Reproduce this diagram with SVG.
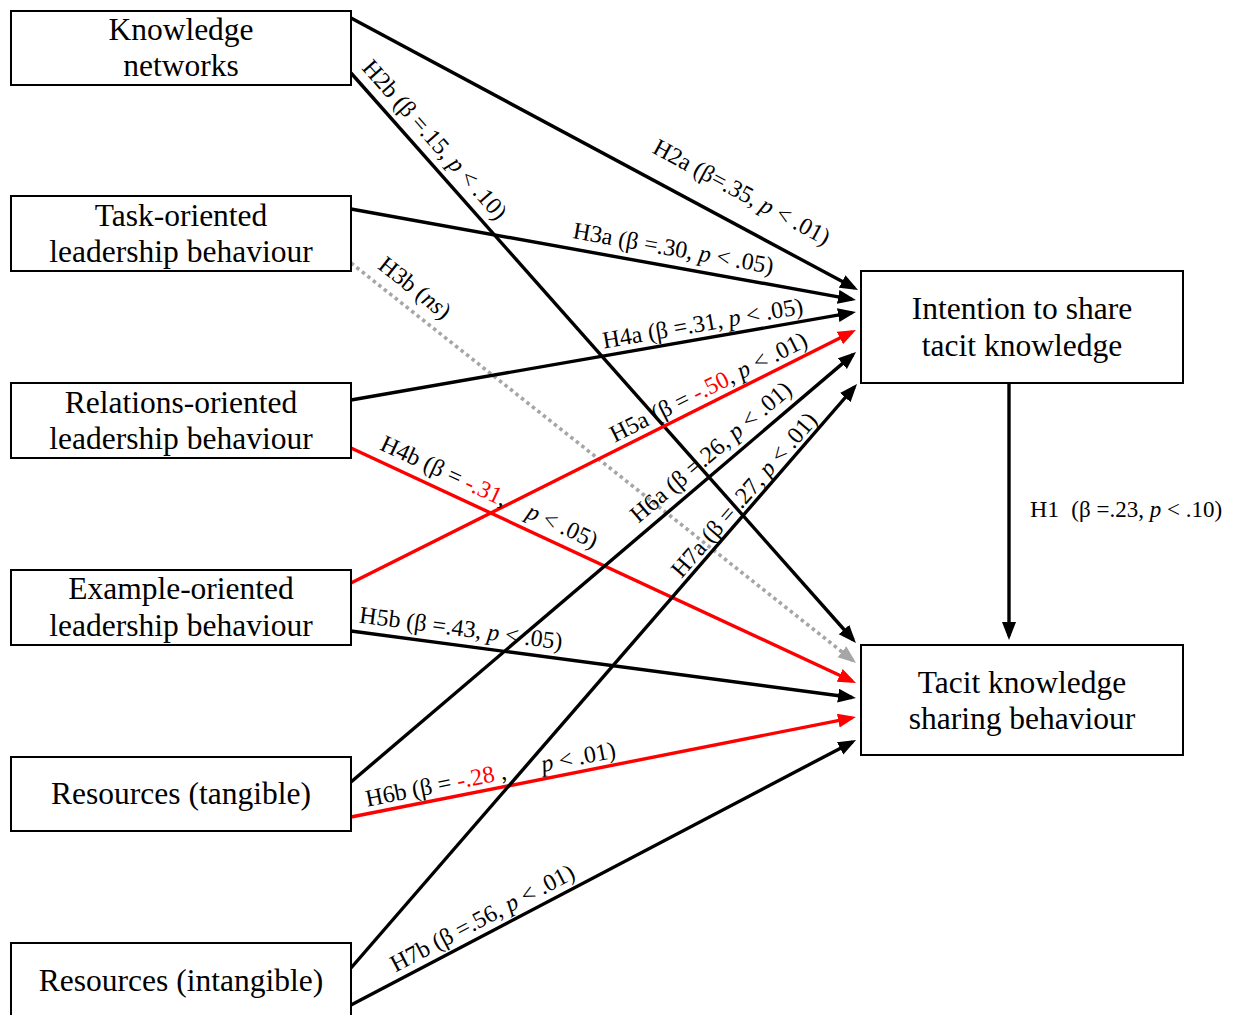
<svg xmlns="http://www.w3.org/2000/svg" width="1240" height="1015" viewBox="0 0 1240 1015">
  <style>
    .box { fill: #ffffff; stroke: #000000; stroke-width: 2; }
    .nt { font-family: "Liberation Serif", "Times New Roman", serif; font-size: 31.5px; fill: #000000; text-anchor: middle; }
    .lb { font-family: "Liberation Serif", "Times New Roman", serif; font-size: 24px; fill: #000000; text-anchor: middle; }
    .k { stroke: #000000; stroke-width: 3.4; fill: none; }
    .r { stroke: #ff0000; stroke-width: 3.4; fill: none; }
    .g { stroke: #a6a6a6; stroke-width: 3.6; fill: none; stroke-dasharray: 3.5 3.5; }
    .red { fill: #ff0000; }
    .it { font-style: italic; }
  </style>
  <defs>
    <marker id="ak" markerUnits="userSpaceOnUse" markerWidth="19" markerHeight="15" refX="14" refY="7" orient="auto">
      <path d="M0,0 L18,7 L0,14 Z" fill="#000000"/>
    </marker>
    <marker id="ar" markerUnits="userSpaceOnUse" markerWidth="19" markerHeight="15" refX="14" refY="7" orient="auto">
      <path d="M0,0 L18,7 L0,14 Z" fill="#ff0000"/>
    </marker>
    <marker id="ag" markerUnits="userSpaceOnUse" markerWidth="19" markerHeight="15" refX="14" refY="7" orient="auto">
      <path d="M0,0 L18,7 L0,14 Z" fill="#a6a6a6"/>
    </marker>
  </defs>
  <rect width="1240" height="1015" fill="#ffffff"/>

  <!-- paths between constructs -->
  <g id="connectors">
    <line class="k" x1="351" y1="18" x2="854.5" y2="288.1" marker-end="url(#ak)"/>
    <line class="k" x1="351" y1="73" x2="853.3" y2="640" marker-end="url(#ak)"/>
    <line class="k" x1="351" y1="209" x2="852" y2="299.3" marker-end="url(#ak)"/>
    <line class="g" x1="351" y1="263" x2="852.9" y2="660.5" marker-end="url(#ag)"/>
    <line class="k" x1="351" y1="400" x2="852" y2="312.7" marker-end="url(#ak)"/>
    <line class="r" x1="351" y1="448" x2="852.4" y2="681.3" marker-end="url(#ar)"/>
    <line class="r" x1="351" y1="583" x2="852.4" y2="331.8" marker-end="url(#ar)"/>
    <line class="k" x1="351" y1="631" x2="852" y2="697.5" marker-end="url(#ak)"/>
    <line class="k" x1="351" y1="782" x2="853" y2="354.6" marker-end="url(#ak)"/>
    <line class="r" x1="351" y1="817" x2="852" y2="717.8" marker-end="url(#ar)"/>
    <line class="k" x1="351" y1="968" x2="854.4" y2="387" marker-end="url(#ak)"/>
    <line class="k" x1="351" y1="1005" x2="852.5" y2="741.9" marker-end="url(#ak)"/>
    <line class="k" x1="1009" y1="384" x2="1009" y2="636" marker-end="url(#ak)"/>

    <!-- path labels -->
    <text class="lb" transform="translate(738,199) rotate(28.3)">H2a (β=.35, <tspan class="it">p</tspan> &lt; .01)</text>
    <text class="lb" transform="translate(429,145) rotate(48.4)">H2b (β =.15, <tspan class="it">p</tspan> &lt; .10)</text>
    <text class="lb" transform="translate(672,256) rotate(10.2)">H3a (β =.30, <tspan class="it">p</tspan> &lt; .05)</text>
    <text class="lb" transform="translate(410,294) rotate(38.4)">H3b (<tspan class="it">ns</tspan>)</text>
    <text class="lb" transform="translate(704,331) rotate(-9.9)">H4a (β =.31, <tspan class="it">p</tspan> &lt; .05)</text>
    <text class="lb" xml:space="preserve" transform="translate(486,499) rotate(24.9)">H4b (β = <tspan class="red">-.31</tspan>,    <tspan class="it">p</tspan> &lt; .05)</text>
    <text class="lb" transform="translate(712,394) rotate(-26.6)">H5a (β = <tspan class="red">-.50</tspan>, <tspan class="it">p</tspan> &lt; .01)</text>
    <text class="lb" transform="translate(460,636) rotate(7.6)">H5b (β =.43, <tspan class="it">p</tspan> &lt; .05)</text>
    <text class="lb" transform="translate(716,458) rotate(-40.4)">H6a (β =.26, <tspan class="it">p</tspan> &lt; .01)</text>
    <text class="lb" xml:space="preserve" transform="translate(492,782) rotate(-11.2)">H6b (β = <tspan class="red">-.28</tspan> ,      <tspan class="it">p</tspan> &lt; .01)</text>
    <text class="lb" transform="translate(750,500) rotate(-49.1)">H7a (β = .27, <tspan class="it">p</tspan> &lt; .01)</text>
    <text class="lb" transform="translate(486,925) rotate(-27.7)">H7b (β =.56, <tspan class="it">p</tspan> &lt; .01)</text>
    <text class="lb" x="1030" y="517" style="text-anchor:start" xml:space="preserve">H1  <tspan font-size="23">(β =.23, <tspan class="it">p</tspan> &lt; .10)</tspan></text>
  </g>

  <g id="knowledge-networks">
    <rect class="box" x="11" y="11" width="340" height="74"/>
    <text class="nt" x="181" y="40">Knowledge</text>
    <text class="nt" x="181" y="76">networks</text>
  </g>
  <g id="task-oriented">
    <rect class="box" x="11" y="196" width="340" height="75"/>
    <text class="nt" x="181" y="226">Task-oriented</text>
    <text class="nt" x="181" y="262">leadership behaviour</text>
  </g>
  <g id="relations-oriented">
    <rect class="box" x="11" y="383" width="340" height="75"/>
    <text class="nt" x="181" y="413">Relations-oriented</text>
    <text class="nt" x="181" y="449">leadership behaviour</text>
  </g>
  <g id="example-oriented">
    <rect class="box" x="11" y="570" width="340" height="75"/>
    <text class="nt" x="181" y="599">Example-oriented</text>
    <text class="nt" x="181" y="636">leadership behaviour</text>
  </g>
  <g id="resources-tangible">
    <rect class="box" x="11" y="757" width="340" height="74"/>
    <text class="nt" x="181" y="804">Resources (tangible)</text>
  </g>
  <g id="resources-intangible">
    <rect class="box" x="11" y="943" width="340" height="80"/>
    <text class="nt" x="181" y="991">Resources (intangible)</text>
  </g>
  <g id="intention">
    <rect class="box" x="861" y="271" width="322" height="112"/>
    <text class="nt" x="1022" y="319">Intention to share</text>
    <text class="nt" x="1022" y="356">tacit knowledge</text>
  </g>
  <g id="sharing-behaviour">
    <rect class="box" x="861" y="645" width="322" height="110"/>
    <text class="nt" x="1022" y="693">Tacit knowledge</text>
    <text class="nt" x="1022" y="729">sharing behaviour</text>
  </g>
</svg>
